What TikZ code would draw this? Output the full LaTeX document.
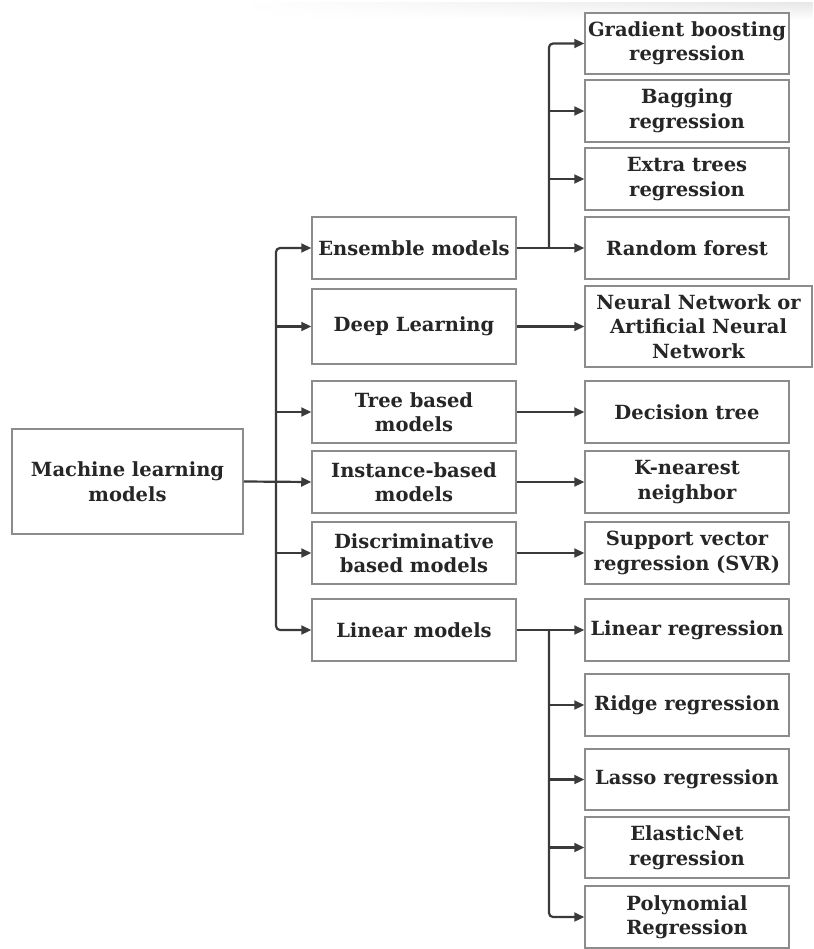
\documentclass[tikz,border=0pt]{standalone}
\usepackage{fontspec}
\setmainfont{DejaVu Serif}
\usetikzlibrary{arrows.meta,fadings}
\definecolor{linkc}{HTML}{3A3A3A}
\definecolor{framec}{HTML}{8C8C8C}
\definecolor{inkc}{HTML}{262626}
\tikzfading[name=fadeleft, left color=transparent!100, right color=transparent!0]
\begin{document}
\begin{tikzpicture}[x=1pt,y=-1pt,
  box/.style={draw=framec, line width=1.5pt, fill=white, align=center,
    text=inkc, inner sep=0pt, font=\bfseries\fontsize{19.5}{24.5}\selectfont},
  midbox/.style={box, minimum width=204pt, minimum height=62pt},
  leafbox/.style={box, minimum width=204pt, minimum height=62pt},
  link/.style={draw=linkc, line width=2.2pt, line join=round},
  arr/.style={link, -{Triangle[length=10pt,width=9pt]}, rounded corners=4pt}]
\useasboundingbox (0,0) rectangle (813,949);
% faint shadow along the top edge
\shade[top color=black!9, bottom color=white, path fading=fadeleft]
  (240,3) rectangle (813,20);

% root
\node[box, minimum width=231pt, minimum height=105pt] (root) at (127.5,481.5)
  {Machine learning\\models};

% model families
\node[midbox] (ens)  at (414,248)   {Ensemble models};
\node[midbox, minimum height=75pt] (deep) at (414,326.5) {Deep Learning};
\node[midbox] (tree) at (414,412)   {Tree based\\models};
\node[midbox] (inst) at (414,482)   {Instance-based\\models};
\node[midbox] (disc) at (414,553)   {Discriminative\\based models};
\node[midbox] (lin)  at (414,630)   {Linear models};

% concrete methods
\node[leafbox, minimum height=61pt] (gb) at (687,43.5) {Gradient boosting\\regression};
\node[leafbox] (bag)  at (687,111)   {Bagging\\regression};
\node[leafbox] (et)   at (687,179)   {Extra trees\\regression};
\node[leafbox] (rf)   at (687,248)   {Random forest};
\node[leafbox, minimum width=227pt, minimum height=81pt] (ann) at (698.5,326.5)
  {Neural Network or\\Artificial Neural\\Network};
\node[leafbox] (dt)   at (687,412)   {Decision tree};
\node[leafbox] (knn)  at (687,482)   {K-nearest\\neighbor};
\node[leafbox] (svr)  at (687,553)   {Support vector\\regression (SVR)};
\node[leafbox] (lr)   at (687,630)   {Linear regression};
\node[leafbox] (rr)   at (687,705)   {Ridge regression};
\node[leafbox, minimum height=61pt] (la) at (687,779.5) {Lasso regression};
\node[leafbox, minimum height=61pt] (en) at (687,847.5) {ElasticNet\\regression};
\node[leafbox] (poly) at (687,917)   {Polynomial\\Regression};

% bus columns
\coordinate (bus0) at (276,0);
\coordinate (bus1) at (549,0);

% root to families
\draw[arr] (root.east) -- (inst.west);
\draw[arr] (root.east -| bus0) |- (ens.west);
\draw[arr] (deep.west -| bus0) -- (deep.west);
\draw[arr] (tree.west -| bus0) -- (tree.west);
\draw[arr] (disc.west -| bus0) -- (disc.west);
\draw[arr] (root.east -| bus0) |- (lin.west);

% ensemble methods
\draw[arr] (ens.east) -- (rf.west);
\draw[arr] (ens.east -| bus1) |- (gb.west);
\draw[arr] (bag.west -| bus1) -- (bag.west);
\draw[arr] (et.west -| bus1) -- (et.west);

% single-method families
\draw[arr] (deep.east) -- (deep.east -| ann.west);
\draw[arr] (tree.east) -- (dt.west);
\draw[arr] (inst.east) -- (knn.west);
\draw[arr] (disc.east) -- (svr.west);

% linear methods
\draw[arr] (lin.east) -- (lr.west);
\draw[arr] (lin.east -| bus1) |- (poly.west);
\draw[arr] (rr.west -| bus1) -- (rr.west);
\draw[arr] (la.west -| bus1) -- (la.west);
\draw[arr] (en.west -| bus1) -- (en.west);
\end{tikzpicture}
\end{document}
